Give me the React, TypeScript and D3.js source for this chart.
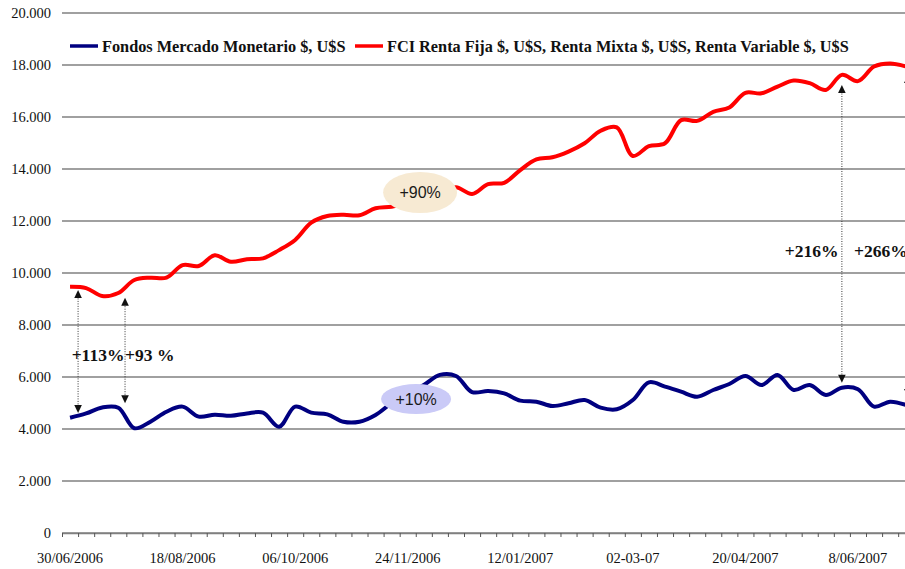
import { useEffect, useRef } from 'react';
import * as d3 from 'd3';

const W = 905;
const H = 569;

// weekly observations, 30/06/2006 onwards
const monetario = [
  4435, 4600, 4830, 4820, 4030, 4280, 4665, 4860, 4475, 4550,
  4510, 4600, 4630, 4090, 4860, 4630, 4565, 4280, 4280, 4540,
  5000, 5350, 5690, 6080, 6040, 5420, 5460, 5370, 5090, 5050,
  4885, 4990, 5115, 4820, 4760, 5115, 5795, 5630, 5435, 5240,
  5500, 5730, 6040, 5690, 6080, 5500, 5690, 5310, 5590, 5530,
  4860, 5050, 4920,
];
const fciRenta = [
  9470, 9420, 9115, 9230, 9730, 9820, 9820, 10300, 10270, 10680,
  10435, 10530, 10565, 10880, 11270, 11935, 12190, 12240, 12220, 12490,
  12550, 12700, 12900, 13100, 13300, 13040, 13420, 13470, 13960, 14370,
  14450, 14670, 14990, 15470, 15600, 14500, 14880, 14990, 15880, 15850,
  16200, 16370, 16930, 16910, 17170, 17400, 17300, 17040, 17620, 17380,
  17940, 18060, 17940,
];
const tickLabels = ['30/06/2006', '18/08/2006', '06/10/2006', '24/11/2006', '12/01/2007', '02-03-07', '20/04/2007', '8/06/2007'];
const labelEvery = 7;
const yTicks = [0, 2000, 4000, 6000, 8000, 10000, 12000, 14000, 16000, 18000, 20000];

const seriesNames = ['Fondos Mercado Monetario $, U$S', 'FCI Renta Fija $, U$S, Renta Mixta $, U$S, Renta Variable $, U$S'];
const seriesColors = ['#000080', '#ff0000'];

// annotations (index on the week axis, values in $)
const arrows = [
  { at: 0.5, top: 9350, bottom: 4615 },
  { at: 3.42, top: 9050, bottom: 4990 },
  { at: 48.0, top: 17230, bottom: 5780 },
  { at: 52.1, top: 17615, bottom: 5230 },
];
const pctLabels = [
  { at: 0.1, value: 6615, text: '+113%' },
  { at: 3.42, value: 6615, text: '+93 %' },
  { at: 44.45, value: 10615, text: '+216%' },
  { at: 48.76, value: 10615, text: '+266%' },
];
const bubbles = [
  { at: 21.77, value: 13096, text: '+90%', fill: '#f7ead3', rx: 37, ry: 20.5 },
  { at: 21.52, value: 5150, text: '+10%', fill: '#cacaf7', rx: 35, ry: 15 },
];

const SERIF = '"Liberation Serif", "Times New Roman", serif';

export default function App() {
  const ref = useRef<SVGSVGElement>(null);

  useEffect(() => {
    const svg = d3.select(ref.current);
    svg.selectAll('*').remove();

    const n = monetario.length;
    const step = 16.08;
    const left = 62;
    const x = d3.scaleLinear().domain([-0.5, n - 0.5]).range([left, left + step * n]);
    const y = d3.scaleLinear().domain([0, 20000]).range([533, 13]);

    const loc = d3.formatLocale({ decimal: ',', thousands: '.', grouping: [3], currency: ['$', ''] });
    const fmt = loc.format(',d');

    // gridlines
    svg.append('g')
      .selectAll('line')
      .data(yTicks)
      .join('line')
      .attr('x1', left)
      .attr('x2', W)
      .attr('y1', d => y(d))
      .attr('y2', d => y(d))
      .attr('stroke', '#808080')
      .attr('stroke-width', 1.6);

    // y axis labels
    const yAxis = svg.append('g')
      .attr('transform', `translate(${left - 11}, 0)`)
      .call(d3.axisLeft(y).tickValues(yTicks).tickSize(0).tickPadding(0).tickFormat(d => fmt(d as number)));
    yAxis.select('.domain').remove();
    yAxis.selectAll('text')
      .attr('font-family', SERIF)
      .attr('font-size', 14.5)
      .attr('fill', '#111');

    // x axis: tick marks between categories, labels every 7 weeks
    const halfTicks = d3.range(n + 1).map(i => i - 0.5);
    const xAxis = svg.append('g')
      .attr('transform', `translate(0, ${y(0)})`)
      .call(d3.axisBottom(x).tickValues(halfTicks).tickSize(4).tickSizeOuter(0).tickFormat(() => ''));
    xAxis.select('.domain').attr('stroke', '#808080').attr('stroke-width', 1.6);
    xAxis.selectAll('.tick line').attr('stroke', '#555').attr('stroke-width', 1);

    svg.append('g')
      .selectAll('text')
      .data(tickLabels)
      .join('text')
      .attr('x', (_, i) => x(i * labelEvery))
      .attr('y', 563)
      .attr('text-anchor', 'middle')
      .attr('font-family', SERIF)
      .attr('font-size', 14.5)
      .attr('fill', '#111')
      .text(d => d);

    // lines
    const line = d3.line<number>()
      .x((_, i) => x(i))
      .y(d => y(d))
      .curve(d3.curveCatmullRom.alpha(0.5));

    [monetario, fciRenta].forEach((s, k) => {
      svg.append('path')
        .datum(s)
        .attr('fill', 'none')
        .attr('stroke', seriesColors[k])
        .attr('stroke-width', 4)
        .attr('stroke-linejoin', 'round')
        .attr('d', line);
    });

    // legend
    const legendX = [70, 355];
    const legend = svg.append('g');
    seriesNames.forEach((name, k) => {
      legend.append('line')
        .attr('x1', legendX[k])
        .attr('x2', legendX[k] + 28)
        .attr('y1', 46)
        .attr('y2', 46)
        .attr('stroke', seriesColors[k])
        .attr('stroke-width', 3.5);
      legend.append('text')
        .attr('x', legendX[k] + 32)
        .attr('y', 51.5)
        .attr('font-family', SERIF)
        .attr('font-weight', 'bold')
        .attr('font-size', 16.3)
        .attr('fill', '#111')
        .text(name);
    });

    // dotted double arrows
    const ann = svg.append('g');
    arrows.forEach(a => {
      const ax = x(a.at);
      const y1 = y(a.top);
      const y2 = y(a.bottom);
      ann.append('line')
        .attr('x1', ax).attr('x2', ax)
        .attr('y1', y1 + 6).attr('y2', y2 - 6)
        .attr('stroke', '#333')
        .attr('stroke-width', 1)
        .attr('stroke-dasharray', '1,1.5');
      ann.append('path')
        .attr('d', `M${ax},${y1} L${ax - 3.8},${y1 + 8} L${ax + 3.8},${y1 + 8} Z`)
        .attr('fill', '#111');
      ann.append('path')
        .attr('d', `M${ax},${y2} L${ax - 3.8},${y2 - 8} L${ax + 3.8},${y2 - 8} Z`)
        .attr('fill', '#111');
    });

    ann.selectAll('text.pct')
      .data(pctLabels)
      .join('text')
      .attr('class', 'pct')
      .attr('x', d => x(d.at))
      .attr('y', d => y(d.value))
      .attr('font-family', SERIF)
      .attr('font-weight', 'bold')
      .attr('font-size', 17.5)
      .attr('fill', '#111')
      .text(d => d.text);

    bubbles.forEach(b => {
      ann.append('ellipse')
        .attr('cx', x(b.at))
        .attr('cy', y(b.value))
        .attr('rx', b.rx)
        .attr('ry', b.ry)
        .attr('fill', b.fill);
      ann.append('text')
        .attr('x', x(b.at))
        .attr('y', y(b.value))
        .attr('dy', '0.36em')
        .attr('text-anchor', 'middle')
        .attr('font-family', '"Liberation Sans", Arial, sans-serif')
        .attr('font-size', 16)
        .attr('fill', '#1a1a1a')
        .text(b.text);
    });
  }, []);

  return (
    <div style={{ position: 'fixed', left: 0, top: 0 }}>
      <svg ref={ref} width={W} height={H} style={{ display: 'block', background: '#fff' }} />
    </div>
  );
}
